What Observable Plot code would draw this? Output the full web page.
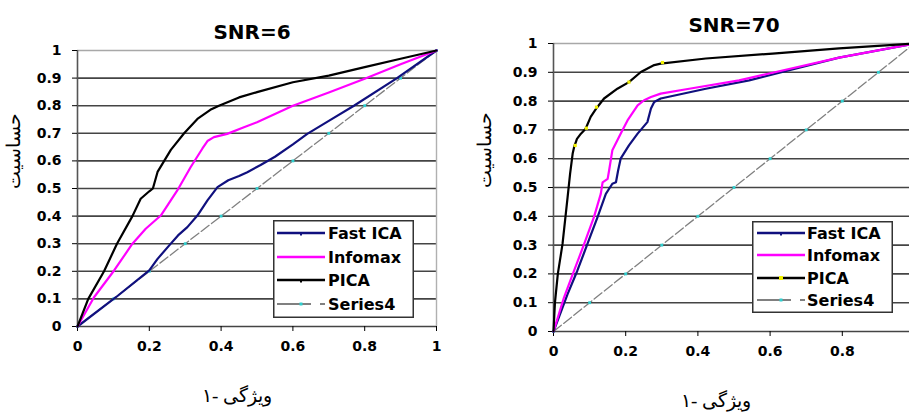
<!DOCTYPE html>
<html>
<head>
<meta charset="utf-8">
<script src="https://cdn.jsdelivr.net/npm/d3@7"></script>
<script src="https://cdn.jsdelivr.net/npm/@observablehq/plot@0.6"></script>
<style>
  body { margin: 0; background: #fff; }
  #chart { display: flex; flex-direction: row; align-items: flex-start; width: 909px; height: 414px; overflow: hidden; background: #fff; }
  #chart > svg { flex: none; max-width: none; }
</style>
</head>
<body>
<div id="chart"></div>
<script>
// Series names and colours (legend order)
const seriesNames = ["Fast ICA", "Infomax", "PICA", "Series4"];
const seriesColors = ["#10107e", "#ff00ff", "#000000", "#808080"];

// Axis ticks
const xTicksLeft = [0, 0.2, 0.4, 0.6, 0.8, 1];
const xTicksRight = [0, 0.2, 0.4, 0.6, 0.8];
const yTicks = [0, 0.1, 0.2, 0.3, 0.4, 0.5, 0.6, 0.7, 0.8, 0.9, 1];

// Panel titles and axis titles
const panelTitles = ["SNR=6", "SNR=70"];
const yTitle = "حساسیت";
const xTitle = "ویژگی -۱";

// ROC curves, SNR=6: [1-specificity, sensitivity]
const snr6FastIca = [[0,0],[0.107,0.106],[0.2,0.203],[0.223,0.245],[0.255,0.293],[0.28,0.33],[0.306,0.36],[0.334,0.402],[0.362,0.457],[0.39,0.505],[0.42,0.53],[0.45,0.545],[0.473,0.559],[0.51,0.585],[0.55,0.615],[0.6,0.66],[0.64,0.698],[0.7,0.745],[0.77,0.8],[0.89,0.9],[1,1]];
const snr6Infomax = [[0,0],[0.046,0.106],[0.102,0.203],[0.153,0.3],[0.19,0.354],[0.232,0.402],[0.278,0.493],[0.315,0.577],[0.348,0.645],[0.362,0.672],[0.38,0.686],[0.417,0.698],[0.46,0.72],[0.5,0.74],[0.6,0.8],[0.7,0.848],[0.8,0.898],[0.9,0.95],[1,1]];
const snr6Pica = [[0,0],[0.03,0.1],[0.074,0.2],[0.11,0.3],[0.153,0.4],[0.176,0.463],[0.2,0.49],[0.21,0.5],[0.223,0.56],[0.26,0.64],[0.297,0.7],[0.334,0.752],[0.37,0.785],[0.394,0.8],[0.45,0.83],[0.5,0.849],[0.6,0.885],[0.7,0.909],[0.8,0.94],[0.9,0.97],[1,1]];

// ROC curves, SNR=70
const snr70FastIca = [[0,0],[0.039,0.13],[0.066,0.211],[0.094,0.304],[0.122,0.397],[0.145,0.478],[0.163,0.513],[0.173,0.518],[0.179,0.559],[0.186,0.6],[0.209,0.646],[0.233,0.687],[0.26,0.727],[0.27,0.774],[0.279,0.797],[0.297,0.809],[0.422,0.843],[0.542,0.872],[0.634,0.901],[0.791,0.951],[1,1]];
const snr70Infomax = [[0,0],[0.029,0.118],[0.057,0.211],[0.085,0.304],[0.112,0.397],[0.131,0.478],[0.136,0.518],[0.15,0.53],[0.154,0.559],[0.163,0.629],[0.186,0.687],[0.205,0.733],[0.233,0.785],[0.251,0.803],[0.27,0.814],[0.297,0.826],[0.376,0.843],[0.514,0.872],[0.616,0.901],[0.791,0.951],[1,1]];
const snr70Pica = [[0,0],[0.004,0.1],[0.012,0.2],[0.025,0.304],[0.039,0.466],[0.046,0.548],[0.053,0.617],[0.057,0.64],[0.065,0.669],[0.076,0.687],[0.089,0.704],[0.103,0.745],[0.12,0.777],[0.14,0.809],[0.177,0.843],[0.209,0.866],[0.242,0.901],[0.279,0.925],[0.297,0.93],[0.422,0.948],[0.607,0.965],[0.791,0.983],[1,1]];
const snr70PicaMarkers = [[0.06,0.646],[0.091,0.706],[0.119,0.779],[0.209,0.866],[0.302,0.934]];

// Chance diagonal (Series4) with its markers
const series4 = [[0,0],[0.1,0.1],[0.2,0.2],[0.3,0.3],[0.4,0.4],[0.5,0.5],[0.6,0.6],[0.7,0.7],[0.8,0.8],[0.9,0.9],[1,1]];

const sansFont = "'DejaVu Sans', Verdana, sans-serif";
const serifFont = "'Times New Roman', 'DejaVu Serif', serif";
const gx = d => d[0], gy = d => d[1];
const tickFmt = d3.format("~g");

// Legend box drawn inside a panel's SVG (render-function mark)
function legendMark({x, y, width, height, rows, lineX0, lineX1, textX, picaMarkerColor}) {
  return () => {
    const g = d3.create("svg:g").attr("transform", `translate(${x},${y})`);
    g.append("rect").attr("x", 0.75).attr("y", 0.75)
      .attr("width", width - 1.5).attr("height", height - 1.5)
      .attr("fill", "#fff").attr("stroke", "#333").attr("stroke-width", 1.5);
    seriesNames.forEach((name, i) => {
      const ry = rows[i];
      const isRef = i === 3;
      g.append("line").attr("x1", lineX0).attr("x2", lineX1).attr("y1", ry).attr("y2", ry)
        .attr("stroke", seriesColors[i]).attr("stroke-width", isRef ? 1.8 : 2.4)
        .attr("stroke-dasharray", isRef ? `${lineX1 - lineX0 - 14},9,5` : null);
      const mid = lineX0 + 24;
      if (isRef) {
        g.append("rect").attr("x", mid - 1.5).attr("y", ry - 1.5).attr("width", 3).attr("height", 3).attr("fill", "#30d0d0");
      } else if (i === 2 && picaMarkerColor) {
        g.append("rect").attr("x", mid - 2).attr("y", ry - 2).attr("width", 4).attr("height", 4).attr("fill", picaMarkerColor);
      } else if (i !== 1) {
        g.append("rect").attr("x", mid - 1).attr("y", ry - 1).attr("width", 2).attr("height", 3.5).attr("fill", seriesColors[i]);
      }
      g.append("text").attr("x", textX).attr("y", ry).attr("dy", "0.36em")
        .attr("text-anchor", "start")
        .attr("font-family", sansFont).attr("font-weight", "bold").attr("font-size", 16)
        .attr("fill", "#000").text(name);
    });
    return g.node();
  };
}

function panel({title, xTicks, fastIca, infomax, pica, picaMarkers, picaMarkerColor, width, margins, rightBorder, titleDx, xTitleDx, yTitleDx, legend}) {
  const marks = [
    Plot.ruleY(yTicks.filter(d => d < 1), {stroke: "#444", strokeWidth: 1.6}),
    Plot.ruleY([1], {stroke: "#a8a8a8", strokeWidth: 1.6})
  ];
  if (rightBorder) marks.push(Plot.ruleX([1], {stroke: "#b0b0b0", strokeWidth: 1.4}));
  marks.push(
    Plot.ruleX([0], {stroke: "#555", strokeWidth: 1.6}),
    Plot.axisY({ticks: yTicks, tickFormat: tickFmt, tickSize: 5, tickPadding: 11, label: null, fontWeight: "bold", fontSize: 14}),
    Plot.axisX({ticks: xTicks, tickFormat: tickFmt, tickSize: 5, tickPadding: 10, label: null, fontWeight: "bold", fontSize: 14}),
    Plot.line(series4, {x: gx, y: gy, stroke: seriesColors[3], strokeWidth: 1.3, strokeDasharray: "10,3"}),
    Plot.dot(series4, {x: gx, y: gy, symbol: "square", r: 1.6, fill: "#30d0d0"}),
    Plot.line(fastIca, {x: gx, y: gy, stroke: seriesColors[0], strokeWidth: 2.2}),
    Plot.line(infomax, {x: gx, y: gy, stroke: seriesColors[1], strokeWidth: 2.2}),
    Plot.line(pica, {x: gx, y: gy, stroke: seriesColors[2], strokeWidth: 2.2})
  );
  if (picaMarkers) marks.push(Plot.dot(picaMarkers, {x: gx, y: gy, symbol: "square", r: 1.8, fill: picaMarkerColor}));
  marks.push(
    Plot.text([title], {frameAnchor: "top", dy: -26, dx: titleDx, fontSize: 20, fontWeight: "bold"}),
    Plot.text([yTitle], {frameAnchor: "left", dx: yTitleDx, rotate: -90, fontSize: 19, fontFamily: serifFont}),
    Plot.text([xTitle], {frameAnchor: "bottom", dy: 75, dx: xTitleDx, fontSize: 19, fontFamily: serifFont}),
    legendMark(legend)
  );
  return Plot.plot({
    width, height: 414,
    marginLeft: margins[0], marginRight: margins[1], marginTop: margins[2], marginBottom: margins[3],
    x: {domain: [0, 1]},
    y: {domain: [0, 1]},
    style: {fontFamily: sansFont, color: "#000"},
    marks
  });
}

const chart = document.getElementById("chart");

chart.appendChild(panel({
  title: panelTitles[0], xTicks: xTicksLeft,
  fastIca: snr6FastIca, infomax: snr6Infomax, pica: snr6Pica,
  width: 455, margins: [77, 19, 50, 88], rightBorder: true,
  titleDx: -5, xTitleDx: -20, yTitleDx: -64,
  legend: {x: 273, y: 220, width: 141, height: 98, rows: [13, 37, 60, 84], lineX0: 4, lineX1: 52, textX: 55}
}));

chart.appendChild(panel({
  title: panelTitles[1], xTicks: xTicksRight,
  fastIca: snr70FastIca, infomax: snr70Infomax, pica: snr70Pica,
  picaMarkers: snr70PicaMarkers, picaMarkerColor: "#f2f200",
  width: 470, margins: [98, 11, 43, 83], rightBorder: false,
  titleDx: 0, xTitleDx: -18, yTitleDx: -69,
  legend: {x: 297, y: 221, width: 141, height: 92, rows: [12, 34, 57, 79], lineX0: 5, lineX1: 53, textX: 55, picaMarkerColor: "#f2f200"}
}));
</script>
</body>
</html>
